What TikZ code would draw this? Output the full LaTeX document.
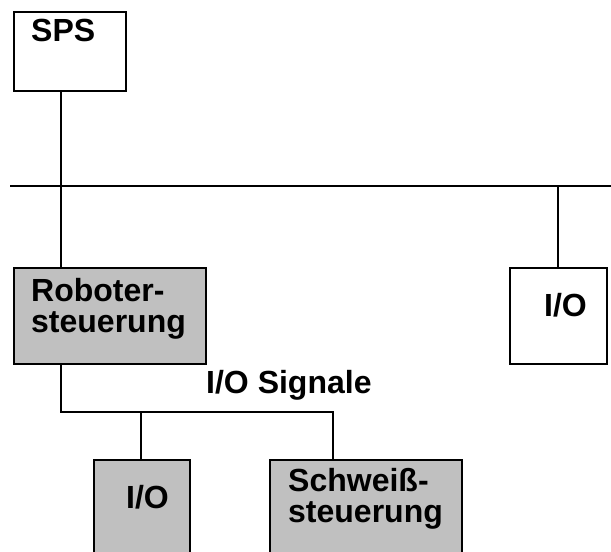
\documentclass[tikz,border=0pt]{standalone}
\usepackage{fontspec}
\setmainfont{Liberation Sans}
\usetikzlibrary{positioning}
\definecolor{boxgray}{RGB}{192,192,192}

\begin{document}
\begin{tikzpicture}[x=1pt,y=-1pt,line width=2.4pt,
  box/.style={draw,anchor=north west,inner sep=0pt},
  grey/.style={box,fill=boxgray},
  lbl/.style={anchor=base west,inner sep=0pt,align=left,
    font=\fontsize{32}{31}\selectfont\bfseries}]

\useasboundingbox (0,0) rectangle (611,552);
\clip (0,0) rectangle (611,552);

% boxes
\node[box,minimum width=112,minimum height=79] (sps) at (13,11) {};
\node[grey,minimum width=192,minimum height=96] (rob) at (13,267) {};
\node[box,minimum width=97,minimum height=96] (ior) at (509,267) {};
\node[grey,minimum width=96,minimum height=130] (iol) at (93,459) {};
\node[grey,minimum width=192,minimum height=130] (weld) at (269,459) {};

% texts (base of a two-line text is its last line)
\node[lbl] (spstxt) at (30,41) {SPS};
\node[lbl] (robtxt) at (30,332) {Roboter-\\steuerung};
\node[lbl] (iortxt) at (543,316) {I/O};
\node[lbl] (ioltxt) at (125,508) {I/O};
\node[lbl] (weldtxt) at (287,522) {Schwei\ss-\\steuerung};
\node[lbl] (sigtxt) at (205,393) {I/O Signale};

% bus
\coordinate (busl) at (10,186);
\coordinate (busr) at (611,186);
\coordinate (tap) at (61,186);
\coordinate (tapr) at (558,186);
\draw (busl) -- (busr);
\draw (tap |- sps.south) -- (tap |- rob.north);
\draw (tapr) -- (tapr |- ior.north);

% I/O Signale
\coordinate (jl) at (61,412);
\coordinate (ja) at (141,412);
\coordinate (jb) at (333,412);
\draw (jl |- rob.south) -- (jl) -- (jb) -- (jb |- weld.north);
\draw (ja) -- (ja |- iol.north);

\end{tikzpicture}
\end{document}
